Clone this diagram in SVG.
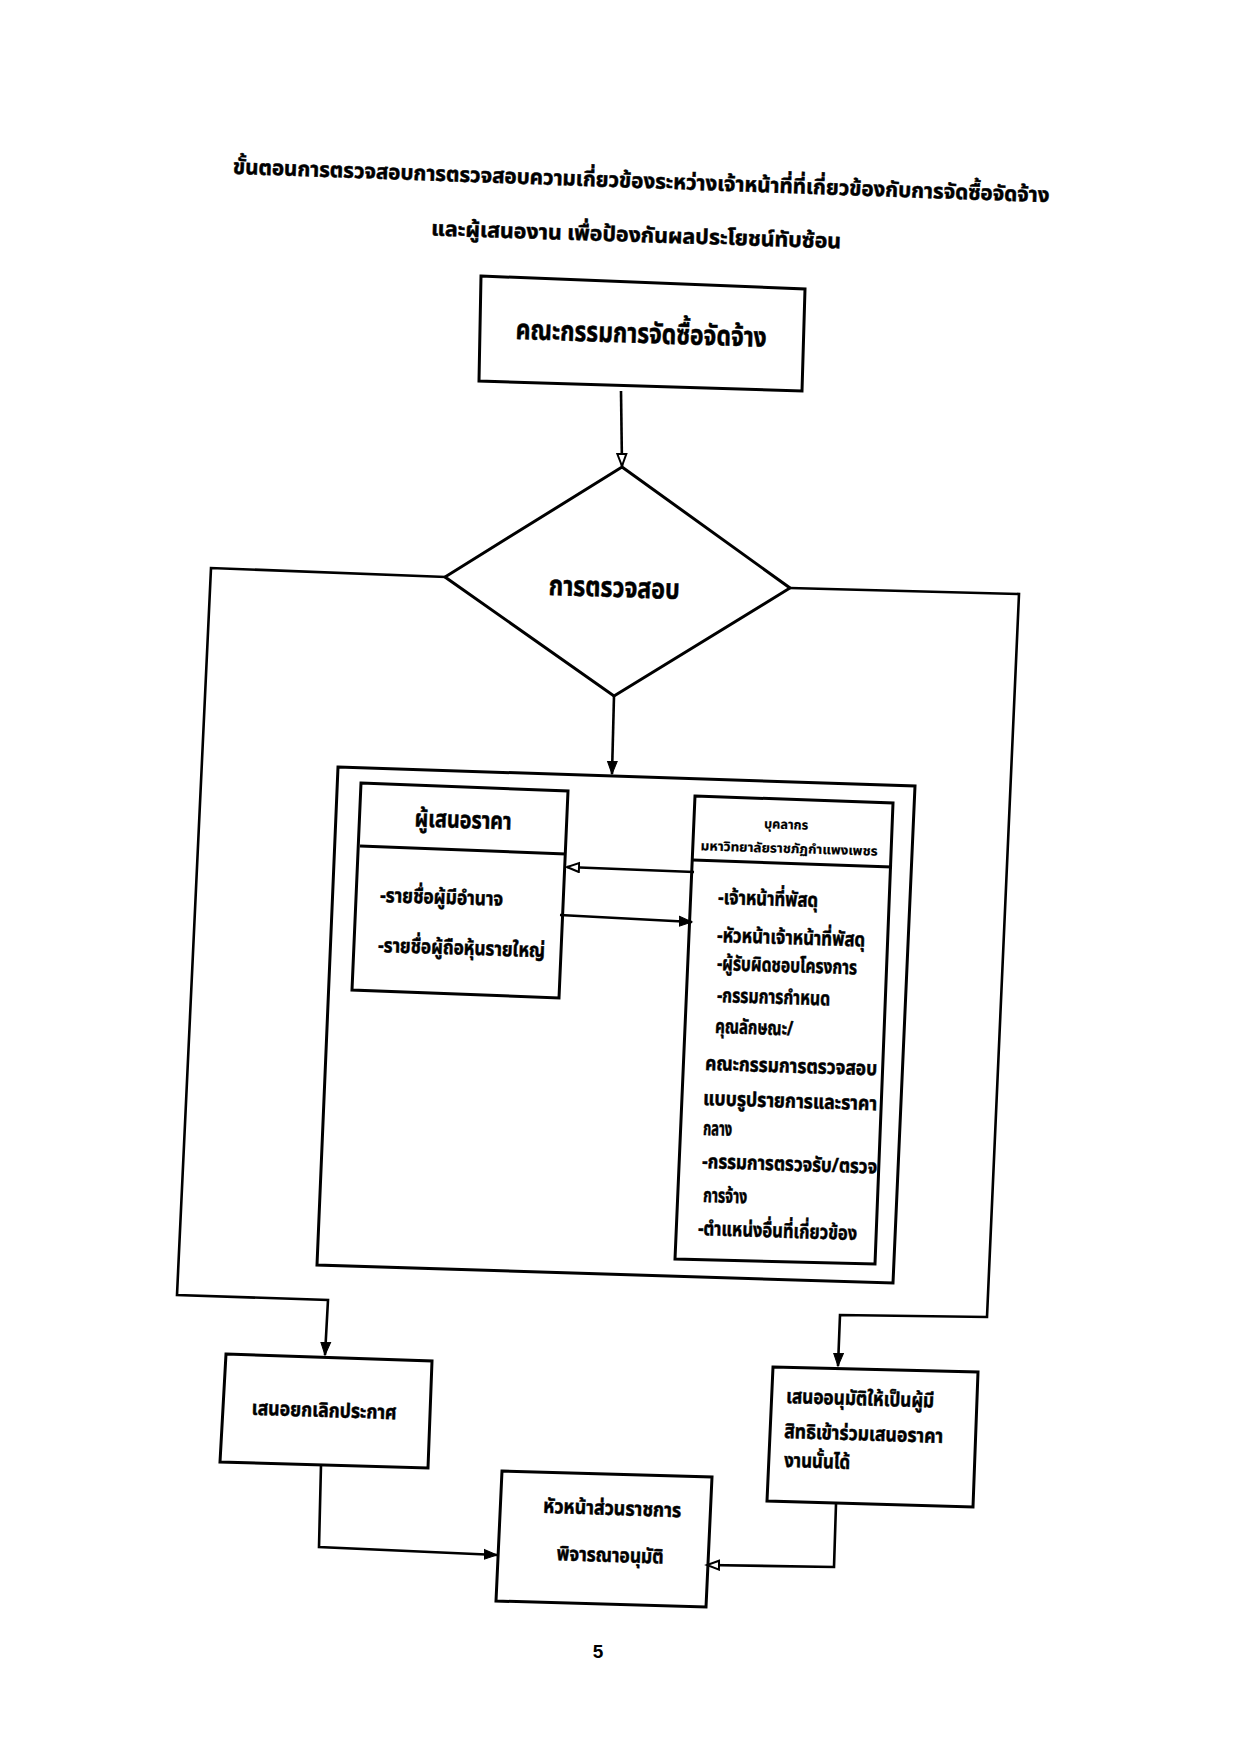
<svg xmlns="http://www.w3.org/2000/svg" width="1235" height="1755" viewBox="0 0 1235 1755">
<style>
.bg{fill:#ffffff}
.box{fill:none;stroke:#000;stroke-width:3;stroke-linejoin:miter}
.ln{fill:none;stroke:#000;stroke-width:2.6}
.t{font-family:"Noto Sans Thai","Noto Sans","DejaVu Sans",sans-serif;font-weight:bold;fill:#000;stroke:#000;stroke-width:0.5}
.s{stroke-width:0.2}
.mid{text-anchor:middle}
.num{font-family:"Liberation Sans",Arial,sans-serif;font-weight:bold;font-size:19px;text-anchor:middle}
</style>
<defs>
<marker id="af" markerUnits="userSpaceOnUse" markerWidth="16" markerHeight="14" refX="13" refY="6" orient="auto">
<path d="M0,1 L13,6 L0,11 Z" fill="#000" stroke="#000" stroke-width="1"/>
</marker>
<marker id="ao" markerUnits="userSpaceOnUse" markerWidth="16" markerHeight="14" refX="13" refY="6" orient="auto">
<path d="M1,1.5 L13,6 L1,10.5 Z" fill="#fff" stroke="#000" stroke-width="2"/>
</marker>
</defs>
<rect class="bg" x="0" y="0" width="1235" height="1755"/>

<g id="title">
<text class="t mid" font-size="21" x="641" y="188" textLength="817" lengthAdjust="spacingAndGlyphs" transform="rotate(2 641 188)">ขั้นตอนการตรวจสอบการตรวจสอบความเกี่ยวข้องระหว่างเจ้าหน้าที่ที่เกี่ยวข้องกับการจัดซื้อจัดจ้าง</text>
<text class="t mid" font-size="21" x="636" y="242" textLength="410" lengthAdjust="spacingAndGlyphs" transform="rotate(1.8 636 242)">และผู้เสนองาน  เพื่อป้องกันผลประโยชน์ทับซ้อน</text>
</g>

<g id="connectors">
<line class="ln" x1="621" y1="391" x2="622" y2="466" marker-end="url(#ao)"/>
<line class="ln" x1="614" y1="696" x2="612" y2="774" marker-end="url(#af)"/>
<line class="ln" x1="694" y1="872" x2="567" y2="867" marker-end="url(#ao)"/>
<line class="ln" x1="560" y1="915" x2="692" y2="922" marker-end="url(#af)"/>
<polyline class="ln" points="446,577 211,568 177,1295 328,1300 325,1355" marker-end="url(#af)"/>
<polyline class="ln" points="790,588 1019,594 987,1317 840,1315 838,1366" marker-end="url(#af)"/>
<polyline class="ln" points="321,1465 319,1547 497,1555" marker-end="url(#af)"/>
<polyline class="ln" points="836,1504 834,1567 707,1565" marker-end="url(#ao)"/>
</g>

<g id="committee">
<polygon class="box" points="481,276 805,289 802,391 479,381"/>
<text class="t mid" font-size="28" x="641" y="343" textLength="251" lengthAdjust="spacingAndGlyphs" transform="rotate(1.8 641 343)">คณะกรรมการจัดซื้อจัดจ้าง</text>
</g>

<g id="decision">
<polygon class="box" points="622,467 790,588 614,696 445,577"/>
<text class="t mid" font-size="28" x="614" y="597" textLength="131" lengthAdjust="spacingAndGlyphs" transform="rotate(1.8 614 597)">การตรวจสอบ</text>
</g>

<g id="container">
<polygon class="box" points="338,767 915,786 893,1283 317,1265"/>
</g>

<g id="bidder">
<polygon class="box" points="361,783 568,791 559,998 352,990"/>
<line class="box" x1="360" y1="846" x2="566" y2="854"/>
<text class="t mid" font-size="24" x="463" y="828" textLength="97" lengthAdjust="spacingAndGlyphs" transform="rotate(1.8 463 828)">ผู้เสนอราคา</text>
<text class="t" font-size="20" x="380" y="902" textLength="123" lengthAdjust="spacingAndGlyphs" transform="rotate(1.8 380 902)">-รายชื่อผู้มีอำนาจ</text>
<text class="t" font-size="20" x="378" y="952" textLength="167" lengthAdjust="spacingAndGlyphs" transform="rotate(1.8 378 952)">-รายชื่อผู้ถือหุ้นรายใหญ่</text>
</g>

<g id="staff">
<polygon class="box" points="695,796 893,803 875,1264 675,1259"/>
<line class="box" x1="693" y1="860" x2="892" y2="867"/>
<text class="t s mid" font-size="13" x="786" y="829" textLength="44" lengthAdjust="spacingAndGlyphs" transform="rotate(1.8 786 829)">บุคลากร</text>
<text class="t s mid" font-size="13" x="789" y="853" textLength="177" lengthAdjust="spacingAndGlyphs" transform="rotate(1.8 789 853)">มหาวิทยาลัยราชภัฏกำแพงเพชร</text>
<text class="t" font-size="20" x="718" y="904" textLength="100" lengthAdjust="spacingAndGlyphs" transform="rotate(1.8 718 904)">-เจ้าหน้าที่พัสดุ</text>
<text class="t" font-size="20" x="717" y="942" textLength="148" lengthAdjust="spacingAndGlyphs" transform="rotate(1.8 717 942)">-หัวหน้าเจ้าหน้าที่พัสดุ</text>
<text class="t" font-size="20" x="717" y="970" textLength="140" lengthAdjust="spacingAndGlyphs" transform="rotate(1.8 717 970)">-ผู้รับผิดชอบโครงการ</text>
<text class="t" font-size="20" x="717" y="1002" textLength="113" lengthAdjust="spacingAndGlyphs" transform="rotate(1.8 717 1002)">-กรรมการกำหนด</text>
<text class="t" font-size="20" x="715" y="1033" textLength="78" lengthAdjust="spacingAndGlyphs" transform="rotate(1.8 715 1033)">คุณลักษณะ/</text>
<text class="t" font-size="20" x="705" y="1070" textLength="172" lengthAdjust="spacingAndGlyphs" transform="rotate(1.8 705 1070)">คณะกรรมการตรวจสอบ</text>
<text class="t" font-size="20" x="703" y="1105" textLength="174" lengthAdjust="spacingAndGlyphs" transform="rotate(1.8 703 1105)">แบบรูปรายการและราคา</text>
<text class="t" font-size="20" x="703" y="1135" textLength="29" lengthAdjust="spacingAndGlyphs" transform="rotate(1.8 703 1135)">กลาง</text>
<text class="t" font-size="20" x="702" y="1168" textLength="175" lengthAdjust="spacingAndGlyphs" transform="rotate(1.8 702 1168)">-กรรมการตรวจรับ/ตรวจ</text>
<text class="t" font-size="20" x="703" y="1202" textLength="44" lengthAdjust="spacingAndGlyphs" transform="rotate(1.8 703 1202)">การจ้าง</text>
<text class="t" font-size="20" x="698" y="1235" textLength="159" lengthAdjust="spacingAndGlyphs" transform="rotate(1.8 698 1235)">-ตำแหน่งอื่นที่เกี่ยวข้อง</text>
</g>

<g id="cancel">
<polygon class="box" points="226,1354 432,1361 428,1468 220,1462"/>
<text class="t mid" font-size="20" x="324" y="1417" textLength="145" lengthAdjust="spacingAndGlyphs" transform="rotate(1.8 324 1417)">เสนอยกเลิกประกาศ</text>
</g>

<g id="approve">
<polygon class="box" points="773,1367 978,1372 973,1507 767,1501"/>
<text class="t" font-size="20" x="786" y="1403" textLength="148" lengthAdjust="spacingAndGlyphs" transform="rotate(1.8 786 1403)">เสนออนุมัติให้เป็นผู้มี</text>
<text class="t" font-size="20" x="784" y="1438" textLength="159" lengthAdjust="spacingAndGlyphs" transform="rotate(1.8 784 1438)">สิทธิเข้าร่วมเสนอราคา</text>
<text class="t" font-size="20" x="784" y="1467" textLength="66" lengthAdjust="spacingAndGlyphs" transform="rotate(1.8 784 1467)">งานนั้นได้</text>
</g>

<g id="head">
<polygon class="box" points="502,1471 712,1477 706,1607 496,1601"/>
<text class="t mid" font-size="20" x="612" y="1515" textLength="138" lengthAdjust="spacingAndGlyphs" transform="rotate(1.8 612 1515)">หัวหน้าส่วนราชการ</text>
<text class="t mid" font-size="20" x="610" y="1562" textLength="107" lengthAdjust="spacingAndGlyphs" transform="rotate(1.8 610 1562)">พิจารณาอนุมัติ</text>
</g>

<g id="page">
<text class="num" x="598" y="1658">5</text>
</g>
</svg>
